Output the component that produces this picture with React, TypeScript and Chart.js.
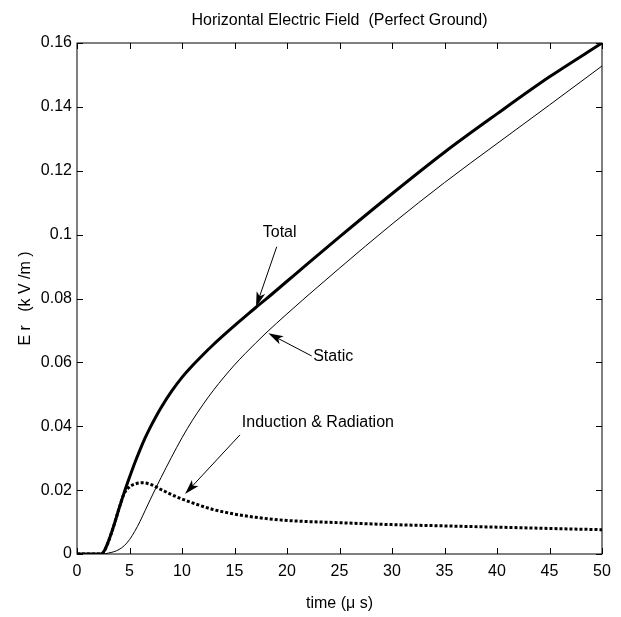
import React, { useEffect, useRef } from "react";
import { Chart, registerables } from "chart.js";

Chart.register(...registerables);

// ---- Data (time in µs, field in kV/m) ----
const totalTime = [0, 2.3, 2.6, 3, 3.5, 4, 4.5, 5, 5.5, 6, 6.5, 7, 7.5, 8, 9, 10, 11, 12, 13, 14, 15, 16, 17, 18, 20, 22, 25, 30, 35, 40, 45, 50];
const totalField = [0, 0, 0.001, 0.004, 0.0088, 0.0142, 0.0193, 0.024, 0.0285, 0.0326, 0.0364, 0.0398, 0.0429, 0.0458, 0.0509, 0.0553, 0.059, 0.0624, 0.0656, 0.0686, 0.0715, 0.0743, 0.0771, 0.0798, 0.0854, 0.091, 0.0993, 0.1128, 0.1258, 0.1378, 0.1494, 0.16];

const staticTime = [0, 2.5, 3, 3.5, 4, 4.5, 5, 5.5, 6, 6.5, 7, 7.5, 8, 9, 10, 11, 12, 13, 14, 15, 16, 17, 18, 20, 22, 25, 30, 35, 40, 45, 50];
const staticField = [0, 0, 0.0003, 0.0007, 0.0014, 0.0026, 0.0045, 0.0071, 0.0102, 0.0137, 0.0172, 0.0206, 0.0239, 0.0303, 0.0364, 0.0419, 0.0468, 0.0513, 0.0554, 0.0592, 0.0627, 0.066, 0.0692, 0.0752, 0.081, 0.0895, 0.1033, 0.1163, 0.1285, 0.1406, 0.1528];

const inductionTime = [0, 2.3, 2.6, 3, 3.5, 4, 4.5, 5, 5.5, 6.2, 7, 8, 9, 10, 11, 13, 15, 17, 20, 25, 30, 35, 40, 45, 50];
const inductionField = [0, 0, 0.001, 0.004, 0.0088, 0.0142, 0.019, 0.021, 0.0219, 0.0223, 0.0218, 0.0202, 0.0186, 0.0172, 0.016, 0.0139, 0.0125, 0.0115, 0.0105, 0.0098, 0.0092, 0.0088, 0.0084, 0.008, 0.0076];

const xTickValues = [0, 5, 10, 15, 20, 25, 30, 35, 40, 45, 50];
const yTickValues = [0, 0.02, 0.04, 0.06, 0.08, 0.1, 0.12, 0.14, 0.16];

const chartTitle = "Horizontal Electric Field  (Perfect Ground)";
const xAxisTitle = "time (\u03bc s)";
const yAxisTitle = "E r   (k V /m )";

// annotation labels and arrows, in data coordinates
const annotationTexts = ["Total", "Static", "Induction & Radiation"];
const annotationTextAt = [
  { x: 19.3, y: 0.1005, align: "center" },
  { x: 24.4, y: 0.0617, align: "center" },
  { x: 15.7, y: 0.0413, align: "left" },
];
const annotationArrows = [
  { fromX: 19.02, fromY: 0.0962, toX: 17.05, toY: 0.0774 },
  { fromX: 22.35, fromY: 0.062, toX: 18.22, toY: 0.0691 },
  { fromX: 15.52, fromY: 0.0373, toX: 10.29, toY: 0.0188 },
];

const FONT = "'Liberation Sans', Arial, Helvetica, sans-serif";

function toPoints(xs: number[], ys: number[]) {
  return xs.map((x, i) => ({ x, y: ys[i] }));
}

function drawArrow(ctx: CanvasRenderingContext2D, x1: number, y1: number, x2: number, y2: number) {
  const ang = Math.atan2(y2 - y1, x2 - x1);
  const L = 15;
  const W = 4.5;
  const cx = Math.cos(ang);
  const sy = Math.sin(ang);
  ctx.beginPath();
  ctx.moveTo(x1, y1);
  ctx.lineTo(x2 - cx * L * 0.6, y2 - sy * L * 0.6);
  ctx.stroke();
  ctx.beginPath();
  ctx.moveTo(x2, y2);
  ctx.lineTo(x2 - cx * L - sy * W, y2 - sy * L + cx * W);
  ctx.lineTo(x2 - cx * L * 0.75, y2 - sy * L * 0.75);
  ctx.lineTo(x2 - cx * L + sy * W, y2 - sy * L - cx * W);
  ctx.closePath();
  ctx.fill();
}

const matlabPlugin = {
  id: "matlabDecor",
  afterDraw(chart: any) {
    const { ctx, chartArea: a, scales } = chart;
    const xs = scales.x;
    const ys = scales.y;
    ctx.save();
    ctx.strokeStyle = "#000";
    ctx.fillStyle = "#000";
    ctx.lineWidth = 1;
    // box
    ctx.strokeRect(a.left, a.top, a.right - a.left, a.bottom - a.top);
    // inside ticks
    const T = 6;
    ctx.beginPath();
    xTickValues.forEach((v) => {
      const px = Math.round(xs.getPixelForValue(v)) + 0.5;
      ctx.moveTo(px, a.bottom);
      ctx.lineTo(px, a.bottom - T);
      ctx.moveTo(px, a.top);
      ctx.lineTo(px, a.top + T);
    });
    yTickValues.forEach((v) => {
      const py = Math.round(ys.getPixelForValue(v)) + 0.5;
      ctx.moveTo(a.left, py);
      ctx.lineTo(a.left + T, py);
      ctx.moveTo(a.right, py);
      ctx.lineTo(a.right - T, py);
    });
    ctx.stroke();

    // title
    ctx.font = `16px ${FONT}`;
    ctx.textAlign = "center";
    ctx.textBaseline = "middle";
    ctx.fillText(chartTitle, (a.left + a.right) / 2, 21);

    // annotations
    annotationTexts.forEach((t, i) => {
      const p = annotationTextAt[i];
      ctx.textAlign = p.align as CanvasTextAlign;
      ctx.fillText(t, xs.getPixelForValue(p.x), ys.getPixelForValue(p.y));
    });
    ctx.lineWidth = 1;
    annotationArrows.forEach((ar) => {
      drawArrow(
        ctx,
        xs.getPixelForValue(ar.fromX),
        ys.getPixelForValue(ar.fromY),
        xs.getPixelForValue(ar.toX),
        ys.getPixelForValue(ar.toY)
      );
    });
    ctx.restore();
  },
};

export default function App() {
  const ref = useRef<HTMLCanvasElement | null>(null);

  useEffect(() => {
    document.body.style.margin = "0";
    const canvas = ref.current;
    if (!canvas) return;
    const chart = new Chart(canvas, {
      type: "line",
      data: {
        datasets: [
          {
            label: "Total",
            data: toPoints(totalTime, totalField),
            borderColor: "#000",
            borderWidth: 3,
            pointRadius: 0,
            cubicInterpolationMode: "monotone",
            fill: false,
          },
          {
            label: "Induction & Radiation",
            data: toPoints(inductionTime, inductionField),
            borderColor: "#000",
            borderWidth: 3,
            borderDash: [3, 2],
            borderCapStyle: "butt",
            pointRadius: 0,
            cubicInterpolationMode: "monotone",
            fill: false,
          },
          {
            label: "Static",
            data: toPoints(staticTime, staticField),
            borderColor: "#000",
            borderWidth: 1,
            pointRadius: 0,
            cubicInterpolationMode: "monotone",
            fill: false,
          },
        ],
      },
      options: {
        animation: false,
        responsive: false,
        devicePixelRatio: 1,
        layout: { padding: { top: 43, right: 19, left: 0, bottom: 0 } },
        plugins: {
          legend: { display: false },
          tooltip: { enabled: false },
          title: { display: false },
        },
        scales: {
          x: {
            type: "linear",
            min: 0,
            max: 50,
            afterFit: (s: any) => {
              s.height = 63;
            },
            afterBuildTicks: (s: any) => {
              s.ticks = xTickValues.map((v) => ({ value: v }));
            },
            grid: { display: false, drawTicks: false },
            border: { display: false },
            ticks: {
              color: "#000",
              font: { family: FONT, size: 16 },
              padding: 8,
              maxRotation: 0,
              autoSkip: false,
              callback: (v: any) => String(v),
            },
            title: {
              display: true,
              text: xAxisTitle,
              color: "#000",
              font: { family: FONT, size: 16 },
              padding: { top: 0, bottom: 4 },
            },
          },
          y: {
            type: "linear",
            min: 0,
            max: 0.16,
            afterFit: (s: any) => {
              s.width = 77;
            },
            afterBuildTicks: (s: any) => {
              s.ticks = yTickValues.map((v) => ({ value: v }));
            },
            grid: { display: false, drawTicks: false },
            border: { display: false },
            ticks: {
              color: "#000",
              font: { family: FONT, size: 16 },
              padding: 5,
              autoSkip: false,
              callback: (v: any) => String(Math.round(v * 100) / 100),
            },
            title: {
              display: true,
              text: yAxisTitle,
              color: "#000",
              font: { family: FONT, size: 16 },
              padding: { top: 16, bottom: 0 },
            },
          },
        },
      },
      plugins: [matlabPlugin],
    } as any);
    return () => chart.destroy();
  }, []);

  return (
    <div style={{ width: 621, height: 617, background: "#fff" }}>
      <canvas ref={ref} width={621} height={617} style={{ display: "block", width: 621, height: 617 }} />
    </div>
  );
}
